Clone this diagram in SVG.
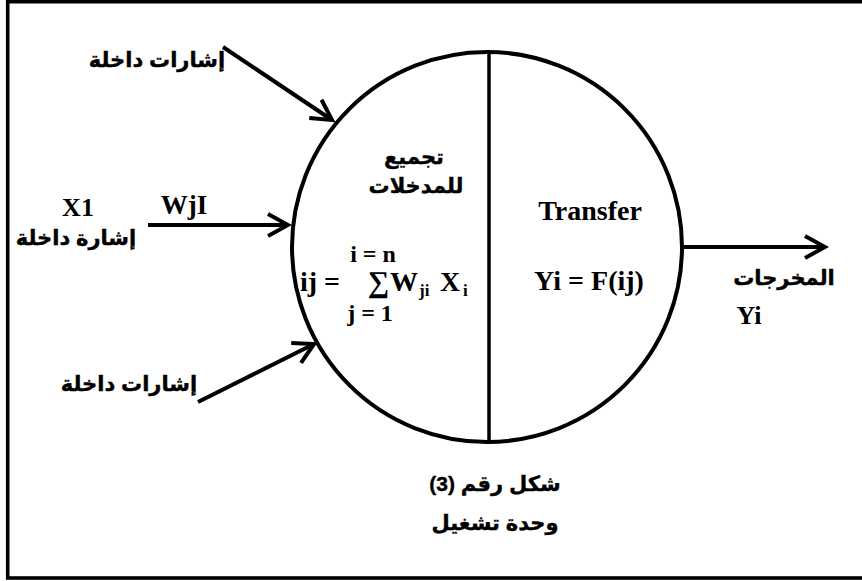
<svg xmlns="http://www.w3.org/2000/svg" width="862" height="581" viewBox="0 0 862 581">
<style>
.ar{font-family:"Liberation Sans","DejaVu Sans",sans-serif;font-weight:bold;font-size:21px;fill:#000;text-anchor:middle;direction:rtl;stroke:#000;stroke-width:0.4}
.lt{font-family:"Liberation Serif","Times New Roman",serif;font-weight:bold;fill:#000}
.c{text-anchor:middle}
.arrow{stroke:#000;stroke-width:4;fill:none}
</style>
<defs>
<marker id="ah" viewBox="-26 -14 30 28" markerWidth="30" markerHeight="28" refX="0" refY="0" orient="auto" markerUnits="userSpaceOnUse">
<path d="M -20 -11 L 0 0 L -20 11" fill="none" stroke="#000" stroke-width="4" stroke-linejoin="miter"/>
</marker>
</defs>
<rect x="7.7" y="1.7" width="870" height="576.3" fill="#fff" stroke="#000" stroke-width="3.6"/>
<g id="neuron">
<circle cx="487" cy="247" r="195" fill="none" stroke="#000" stroke-width="4"/>
<line x1="489" y1="52" x2="489" y2="442" stroke="#000" stroke-width="3.5"/>
</g>
<g id="connectors">
<line class="arrow" x1="223" y1="47" x2="332" y2="120" marker-end="url(#ah)"/>
<line class="arrow" x1="148" y1="225" x2="288" y2="225" marker-end="url(#ah)"/>
<line class="arrow" x1="198" y1="402" x2="314" y2="344" marker-end="url(#ah)"/>
<line class="arrow" x1="684" y1="247" x2="825" y2="247" marker-end="url(#ah)"/>
</g>
<g id="input-top">
<text class="ar" x="157" y="67">إشارات داخلة</text>
</g>
<g id="input-x1">
<text class="lt c" x="78" y="216" font-size="26">X1</text>
<text class="ar" x="76" y="245">إشارة داخلة</text>
<text class="lt c" x="184" y="214" font-size="27">WjI</text>
</g>
<g id="input-bottom">
<text class="ar" x="129" y="391">إشارات داخلة</text>
</g>
<g id="summation">
<text class="ar" x="414" y="164">تجميع</text>
<text class="ar" x="416" y="193">للمدخلات</text>
<text class="lt c" x="373" y="262" font-size="24">i = n</text>
<text class="lt" x="300" y="291" font-size="28">ij =</text>
<text class="lt" x="368" y="292" font-size="30">∑</text>
<text class="lt" x="390" y="291" font-size="28">W</text>
<text class="lt" x="419" y="296" font-size="17">ji</text>
<text class="lt" x="440" y="291" font-size="28">X</text>
<text class="lt" x="463" y="296" font-size="17">i</text>
<text class="lt c" x="370" y="321" font-size="24">j = 1</text>
</g>
<g id="transfer">
<text class="lt c" x="590" y="220" font-size="28">Transfer</text>
<text class="lt c" x="589" y="290" font-size="28">Yi = F(ij)</text>
</g>
<g id="output">
<text class="ar" x="784" y="285">المخرجات</text>
<text class="lt c" x="749" y="324" font-size="26">Yi</text>
</g>
<g id="caption">
<text class="ar" x="495" y="491" font-size="22">شكل رقم (3)</text>
<text class="ar" x="495" y="530" font-size="22">وحدة تشغيل</text>
</g>
</svg>
